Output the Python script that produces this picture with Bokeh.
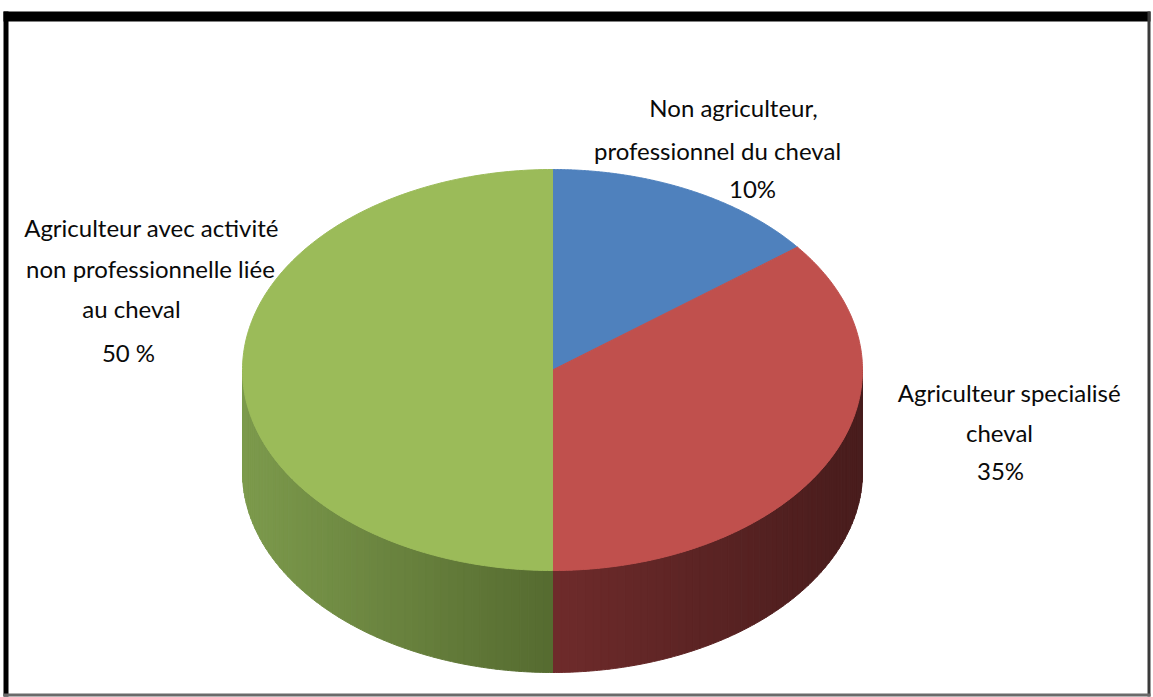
import numpy as np
from bokeh.plotting import figure
from bokeh.models import Range1d
from bokeh.core.properties import value
from bokeh.embed import file_html
from bokeh.resources import INLINE

# ---- data ----
categories = ["Non agriculteur, professionnel du cheval",
              "Agriculteur specialisé cheval",
              "Agriculteur avec activité non professionnelle liée au cheval"]
shares = [14.5, 35.5, 50]  # drawn proportions of the slices
top_colors = ["#4f81bd", "#c0504d", "#9bbb59"]
side_left = [(79, 110, 160), (110, 43, 43), (124, 154, 76)]
side_right = [(60, 85, 125), (72, 28, 28), (86, 107, 48)]

label_lines = [
    ["Non agriculteur,", "professionnel du cheval", "10%"],
    ["Agriculteur specialisé", "cheval", "35%"],
    ["Agriculteur avec activité", "non professionnelle liée", "au cheval", "50 %"],
]

# ---- layout (reference pixel coordinates, y measured from page top) ----
W, H = 1153, 697
def Y(yref):
    return H - yref

cx, cy_ref = 552.0, 369.5
rx, ry, depth = 310.0, 200.5, 102.0
cy = Y(cy_ref)

label_pos = [
    [(733, 107), (717, 150), (752, 188)],
    [(1009, 392), (999, 432), (1000, 470)],
    [(151, 227), (150, 268), (131, 308), (128, 352)],
]

p = figure(width=W, height=H, output_backend="svg", toolbar_location=None,
           x_range=Range1d(0, W), y_range=Range1d(0, H),
           min_border=0, outline_line_color=None)
p.axis.visible = False
p.grid.visible = False
p.background_fill_color = "white"
p.border_fill_color = "white"

# slice angles (clockwise from 12 o'clock)
cum = np.concatenate([[0], np.cumsum(shares)]) / sum(shares)
starts = 90 - 360 * cum[:-1]
ends = 90 - 360 * cum[1:]

def ell(t):
    tr = np.radians(t)
    return cx + rx * np.cos(tr), cy + ry * np.sin(tr)

# ---- side walls (front half only), shaded in strips ----
sx, sy, scol = [], [], []
for i in range(len(shares)):
    a0, a1 = ends[i], starts[i]
    for shift in (0, 360, -360):
        lo, hi = max(a0 + shift, -180), min(a1 + shift, 0)
        if hi <= lo:
            continue
        n = max(2, int((hi - lo) / 1.5))
        ts = np.linspace(lo, hi, n + 1)
        xl, xr = ell(lo)[0], ell(hi)[0]
        for k in range(n):
            t = np.linspace(ts[k], ts[k + 1], 4)
            x, y = ell(t)
            xs = list(x) + list(x[::-1])
            ys = list(y) + list((y - depth)[::-1])
            xm = (x[0] + x[-1]) / 2
            f = (xm - xl) / (xr - xl) if xr != xl else 0
            c = tuple(int(round(side_left[i][j] + f * (side_right[i][j] - side_left[i][j]))) for j in range(3))
            sx.append(xs); sy.append(ys)
            scol.append("#%02x%02x%02x" % c)
p.patches(sx, sy, fill_color=scol, line_color=scol, line_width=1)

# ---- top faces ----
tx, ty = [], []
for i in range(len(shares)):
    t = np.linspace(starts[i], ends[i], 200)
    x, y = ell(t)
    tx.append([cx] + list(x)); ty.append([cy] + list(y))
p.patches(tx, ty, fill_color=top_colors, line_color=top_colors, line_width=1)

# ---- labels ----
lx, ly, lt = [], [], []
for lines, pos in zip(label_lines, label_pos):
    for s, (x, y) in zip(lines, pos):
        lx.append(x); ly.append(Y(y)); lt.append(s)
p.text(x=lx, y=ly, text=lt, text_align="center", text_baseline="middle",
       text_font=value("Lato"), text_font_size="24px", text_color="#0a0a0a")

# ---- frame ----
p.quad(left=[3], right=[1150], top=[Y(11)], bottom=[Y(21)], fill_color="black", line_color=None)
p.quad(left=[3], right=[8], top=[Y(11)], bottom=[Y(696)], fill_color="black", line_color=None)
p.quad(left=[1147], right=[1150], top=[Y(11)], bottom=[Y(696)], fill_color="#3a3a3a", line_color=None)
p.quad(left=[3], right=[1150], top=[Y(693)], bottom=[Y(696)], fill_color="#6a6a6a", line_color=None)

open("out.html", "w").write(file_html(p, INLINE))
